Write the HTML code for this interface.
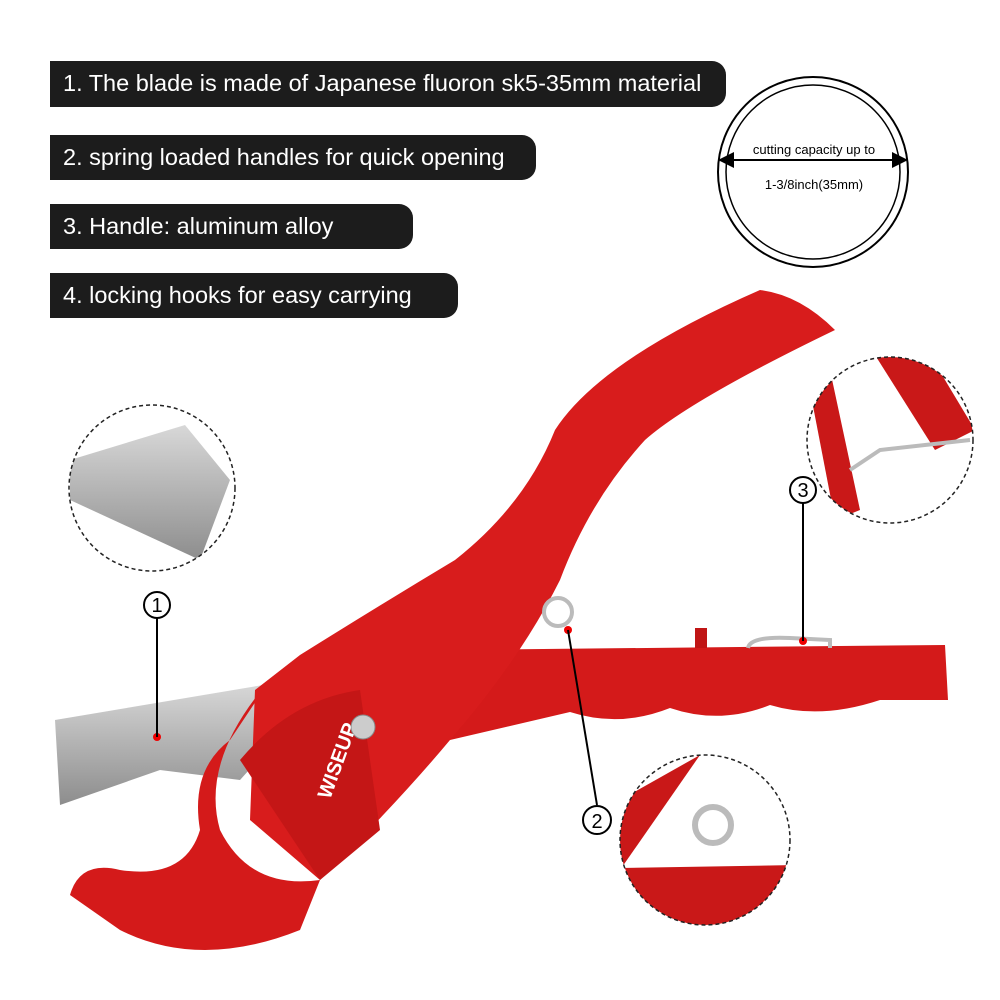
<!DOCTYPE html>
<html><head><meta charset="utf-8"><style>
body{margin:0;background:#fff;width:1000px;height:1000px;overflow:hidden;font-family:"Liberation Sans",sans-serif}
.bar{position:absolute;left:50px;background:#1c1c1c;color:#fff;font-size:23.5px;line-height:1;display:flex;align-items:center;padding-left:13px;box-sizing:border-box;border-radius:0 14px 14px 0;white-space:nowrap}
</style></head><body>
<div class="bar" style="top:61px;width:676px;height:46px">1. The blade is made of Japanese fluoron sk5-35mm material</div>
<div class="bar" style="top:135px;width:486px;height:45px">2. spring loaded handles for quick opening</div>
<div class="bar" style="top:204px;width:363px;height:45px">3. Handle: aluminum alloy</div>
<div class="bar" style="top:273px;width:408px;height:45px">4. locking hooks for easy carrying</div>
<svg width="1000" height="1000" style="position:absolute;left:0;top:0">
<defs><marker id="a" markerWidth="8" markerHeight="8" refX="6" refY="4" orient="auto"><path d="M0,0L8,4L0,8z" fill="#000"/></marker>
<marker id="b" markerWidth="8" markerHeight="8" refX="2" refY="4" orient="auto"><path d="M8,0L0,4L8,8z" fill="#000"/></marker>
<linearGradient id="g" x1="0" y1="0" x2="0" y2="1"><stop offset="0" stop-color="#d8d8d8"/><stop offset="1" stop-color="#8d8d8d"/></linearGradient></defs>
<circle cx="813" cy="172" r="95" fill="none" stroke="#000" stroke-width="2"/>
<circle cx="813" cy="172" r="87" fill="none" stroke="#000" stroke-width="1.5"/>
<line x1="722" y1="160" x2="904" y2="160" stroke="#000" stroke-width="2" marker-start="url(#b)" marker-end="url(#a)"/>
<text x="814" y="154" font-size="13" text-anchor="middle" font-family="Liberation Sans">cutting capacity up to</text>
<text x="814" y="189" font-size="13" text-anchor="middle" font-family="Liberation Sans">1-3/8inch(35mm)</text>
<!-- lower handle -->
<path d="M440,650 L945,645 L948,700 L880,700 Q820,720 770,705 Q720,725 670,708 Q620,728 570,712 L450,740 Z" fill="#d41a1a"/>
<rect x="695" y="628" width="12" height="20" fill="#c01515"/>
<path d="M748,648 Q750,636 790,638 L830,640 L830,648" fill="none" stroke="#bbb" stroke-width="4"/>
<!-- blade -->
<path d="M55,720 L275,683 L285,730 L240,780 L160,770 L60,805 Z" fill="url(#g)"/>
<!-- jaw -->
<path d="M270,680 Q200,760 220,830 Q250,890 320,880 L300,930 Q200,970 120,930 L70,895 Q80,860 120,870 Q185,880 200,830 Q190,770 230,740 Z" fill="#d41a1a"/>
<!-- upper handle -->
<path d="M255,690 L300,655 Q380,605 455,560 Q525,505 555,430 Q600,360 760,290 Q800,295 835,330 Q690,400 645,440 Q590,500 560,580 Q520,660 450,740 Q400,800 320,880 L250,820 Z" fill="#d81c1c"/>
<path d="M240,760 Q290,700 360,690 L380,830 L320,880 Z" fill="#c41616"/>
<circle cx="363" cy="727" r="12" fill="#ccc" stroke="#888"/>
<text x="330" y="800" font-size="20" font-weight="bold" fill="#fff" transform="rotate(-70 330 800)" font-family="Liberation Sans">WISEUP</text>
<!-- spring -->
<circle cx="558" cy="612" r="14" fill="none" stroke="#bbb" stroke-width="4"/>
<circle cx="568" cy="630" r="4" fill="#e00"/>
<circle cx="803" cy="641" r="4" fill="#e00"/>
<circle cx="157" cy="737" r="4" fill="#e00"/>
<line x1="157" y1="618" x2="157" y2="737" stroke="#000" stroke-width="2"/>
<line x1="803" y1="503" x2="803" y2="641" stroke="#000" stroke-width="2"/>
<line x1="568" y1="630" x2="597" y2="805" stroke="#000" stroke-width="2"/>
<g fill="none" stroke="#000" stroke-width="2">
<circle cx="157" cy="605" r="13" fill="#fff"/><circle cx="803" cy="490" r="13" fill="#fff"/><circle cx="597" cy="820" r="14" fill="#fff"/></g>
<g font-family="Liberation Sans" font-size="20" text-anchor="middle"><text x="157" y="612">1</text><text x="803" y="497">3</text><text x="597" y="828">2</text></g>
<clipPath id="c1"><circle cx="152" cy="488" r="83"/></clipPath>
<g clip-path="url(#c1)"><path d="M70,460 L185,425 L230,480 L200,560 L70,500 Z" fill="url(#g)"/></g>
<circle cx="152" cy="488" r="83" fill="none" stroke="#222" stroke-width="1.5" stroke-dasharray="4,3"/>
<clipPath id="c2"><circle cx="890" cy="440" r="83"/></clipPath>
<g clip-path="url(#c2)"><path d="M808,380 L830,370 L860,510 L835,520 Z" fill="#c91818"/><path d="M875,355 L930,355 L975,430 L935,450 Z" fill="#c91818"/><path d="M850,470 L880,450 L970,440" fill="none" stroke="#bbb" stroke-width="4"/></g>
<circle cx="890" cy="440" r="83" fill="none" stroke="#222" stroke-width="1.5" stroke-dasharray="4,3"/>
<clipPath id="c3"><circle cx="705" cy="840" r="85"/></clipPath>
<g clip-path="url(#c3)"><path d="M620,800 L700,755 L620,870 Z" fill="#c91818"/><path d="M620,868 L800,865 L800,930 L620,930 Z" fill="#c91818"/><circle cx="713" cy="825" r="18" fill="none" stroke="#bbb" stroke-width="6"/></g>
<circle cx="705" cy="840" r="85" fill="none" stroke="#222" stroke-width="1.5" stroke-dasharray="4,3"/>
</svg>
</body></html>
